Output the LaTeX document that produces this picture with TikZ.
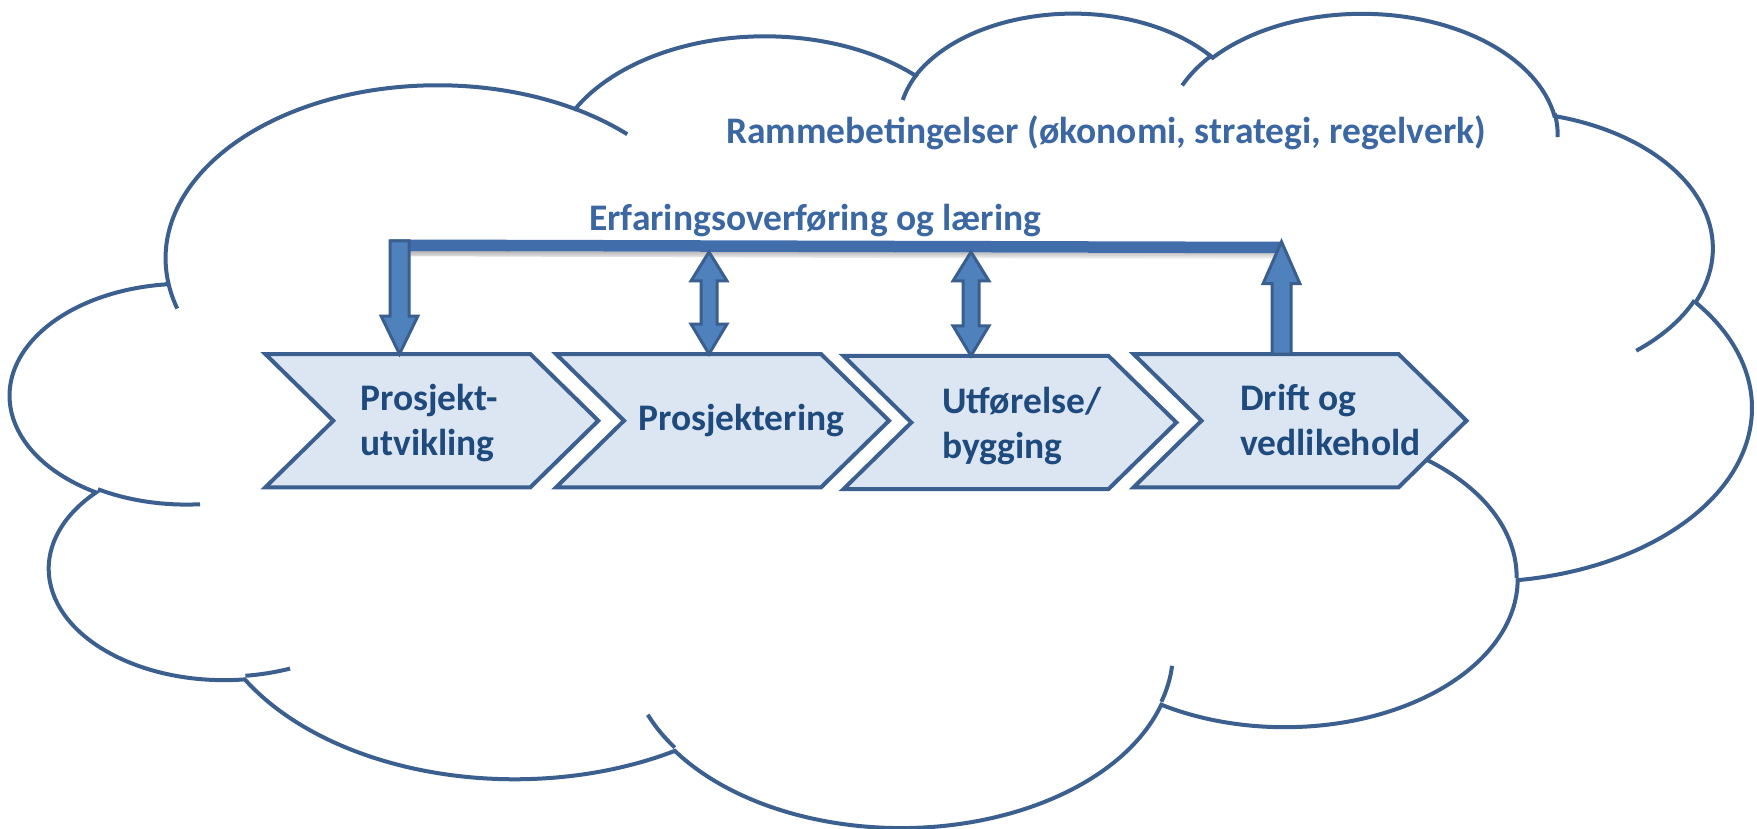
\documentclass[tikz,border=0pt]{standalone}
\usepackage{fontspec}
\setmainfont{Carlito}
\usetikzlibrary{calc}
\definecolor{cloudblue}{HTML}{3B5F8E}
\definecolor{chevline}{HTML}{3B5F8E}
\definecolor{chevfill}{HTML}{DCE6F2}
\definecolor{chevtext}{HTML}{1F4A7E}
\definecolor{toptext}{HTML}{3B67A2}
\definecolor{arrfill}{HTML}{4F81BD}
\definecolor{arrline}{HTML}{3A5F8F}
\definecolor{barfill}{HTML}{416EAB}
% visual (DrawingML) angles -> parametric, negated for y-up canvas
\newcommand\cldcalc[4]{%
  \pgfmathsetmacro\cldta{-((#3)+mod(atan2((#1)*sin(#3),(#2)*cos(#3))-(#3)+540,360)-180)}%
  \pgfmathsetmacro\cldtb{-((#3)+(#4)+mod(atan2((#1)*sin((#3)+(#4)),(#2)*cos((#3)+(#4)))-((#3)+(#4))+540,360)-180)}%
  \pgfmathsetmacro\cldrx{(#1)*0.0402778}%
  \pgfmathsetmacro\cldry{(#2)*0.0188426}%
  \xdef\cldTA{\cldta}\xdef\cldTB{\cldtb}\xdef\cldRX{\cldrx}\xdef\cldRY{\cldry}}
\tikzset{
  cloudline/.style={draw=cloudblue, line width=4pt},
  cldarc/.style={insert path={arc[start angle=\cldTA, end angle=\cldTB, x radius=\cldRX pt, y radius=\cldRY pt]}},
  chevbox/.style={minimum width=333pt, minimum height=133.4pt, inner sep=0pt, outer sep=0pt},
  chevshape/.style={draw=chevline, fill=chevfill, line width=4pt, line join=miter},
  chevlabel/.style={text=chevtext, font=\fontsize{37.5}{44.5}\selectfont\bfseries, align=left, inner sep=0pt, anchor=base west},
  toplabel/.style={text=toptext, font=\fontsize{37.5}{45}\selectfont\bfseries, inner sep=0pt, anchor=base west},
  blockarrow/.style={draw=arrline, fill=arrfill, line width=3pt, line join=miter},
}
\newcommand\chevron[1]{%
  \draw[chevshape] (#1.north west) -- ($(#1.north east)+(-68,0)$) -- (#1.east)
    -- ($(#1.south east)+(-68,0)$) -- (#1.south west) -- ($(#1.west)+(68,0)$) -- cycle;}
\begin{document}
\begin{tikzpicture}[x=1pt, y=-1pt]
\useasboundingbox (0,0) rectangle (1757,829);
% cloud outline
\coordinate (cld0) at (168.08,281.77);
\draw[cloudline, fill=white] (cld0)
  \pgfextra{\cldcalc{6753}{9190}{-190.48748}{123.78053}} [cldarc]
  \pgfextra{\cldcalc{5333}{7267}{-144.10238}{89.94523}} [cldarc]
  \pgfextra{\cldcalc{4365}{5945}{-145.80792}{99.72302}} [cldarc]
  \pgfextra{\cldcalc{4857}{6595}{-130.98607}{117.24173}} [cldarc]
  \pgfextra{\cldcalc{5333}{7273}{-78.70888}{109.02692}} [cldarc]
  \pgfextra{\cldcalc{6775}{9220}{-46.26725}{130.269}} [cldarc]
  \pgfextra{\cldcalc{5785}{7867}{0.62502}{114.03333}} [cldarc]
  \pgfextra{\cldcalc{6752}{9215}{22.4516}{115.17255}} [cldarc]
  \pgfextra{\cldcalc{7720}{10543}{66.24263}{75.71102}} [cldarc]
  \pgfextra{\cldcalc{4360}{5918}{-274.94208}{146.73557}} [cldarc]
  \pgfextra{\cldcalc{4345}{5945}{-246.8285}{152.51885}} [cldarc]
  -- cycle;
% cloud inner strokes
\coordinate (ca) at (200.02,504.24);
\coordinate (cb) at (290.04,668.59);
\coordinate (cc) at (674.70,747.56);
\coordinate (cd) at (1172.09,665.80);
\coordinate (ce) at (1385.64,443.51);
\coordinate (cf) at (1694.53,300.31);
\coordinate (cg) at (1554.61,113.24);
\coordinate (ch) at (1182.20,85.47);
\coordinate (ci) at (902.79,99.94);
\coordinate (cj) at (574.89,108.83);
\coordinate (ck) at (177.23,308.51);
\draw[cloudline]
  (ca) \pgfextra{\cldcalc{4345}{5945}{86.742}{26.4295}} [cldarc]
  (cb) \pgfextra{\cldcalc{4360}{5918}{73.61047}{11.44747}} [cldarc]
  (cc) \pgfextra{\cldcalc{6752}{9215}{137.62415}{14.0811}} [cldarc]
  (cd) \pgfextra{\cldcalc{6752}{9215}{6.45327}{15.99835}} [cldarc]
  (ce) \pgfextra{\cldcalc{5785}{7867}{-70.29235}{70.91737}} [cldarc]
  (cf) \pgfextra{\cldcalc{5333}{7273}{30.31803}{27.7515}} [cldarc]
  (cg) \pgfextra{\cldcalc{4857}{6595}{-13.74433}{14.8589}} [cldarc]
  (ch) \pgfextra{\cldcalc{4857}{6595}{-149.18145}{18.19537}} [cldarc]
  (ci) \pgfextra{\cldcalc{4365}{5945}{-163.49427}{17.68635}} [cldarc]
  (cj) \pgfextra{\cldcalc{6753}{9190}{-66.70695}{12.31935}} [cldarc]
  (ck) \pgfextra{\cldcalc{6753}{9190}{157.65435}{11.85817}} [cldarc];
% chevrons
\node[chevbox] (c1) at (431.8,420.7) {};
\node[chevbox] (c2) at (722.5,420.7) {};
\node[chevbox] (c3) at (1009.9,422.5) {};
\node[chevbox] (c4) at (1300.0,420.7) {};
\chevron{c1}\chevron{c2}\chevron{c3}\chevron{c4}
% feedback bar
\coordinate (barL) at (390,245.2);
\coordinate (barR) at (1282,247.5);
\shade[top color=black!30, bottom color=white]
  ($(barL)+(4,5.75)$) -- ($(barR)+(0,5.75)$) -- ($(barR)+(0,12)$) -- ($(barL)+(4,11)$) -- cycle;
\fill[barfill] ($(barL)+(0,-5.75)$) -- ($(barR)+(0,-5.75)$) -- ($(barR)+(0,5.75)$) -- ($(barL)+(0,5.75)$) -- cycle;
% arrows
\coordinate (b1) at (399.5,241);
\coordinate (e1) at (b1 |- c1.north);
\draw[blockarrow] ($(b1)+(-9.5,0)$) -- ($(b1)+(9.5,0)$) -- ($(e1)+(9.5,-38)$) -- ($(e1)+(18.4,-38)$)
  -- (e1) -- ($(e1)+(-18.4,-38)$) -- ($(e1)+(-9.5,-38)$) -- cycle;
\coordinate (u2) at (709,252);
\coordinate (v2) at (u2 |- c2.north);
\coordinate (u3) at (971,252);
\coordinate (v3) at (u3 |- c3.north);
\foreach \u/\v in {u2/v2, u3/v3}{
  \draw[blockarrow] (\u) -- ($(\u)+(18,29)$) -- ($(\u)+(8,29)$) -- ($(\v)+(8,-30)$) -- ($(\v)+(18,-30)$)
    -- (\v) -- ($(\v)+(-18,-30)$) -- ($(\v)+(-8,-30)$) -- ($(\u)+(-8,29)$) -- ($(\u)+(-18,29)$) -- cycle;
}
\coordinate (u4) at (1281.5,241.7);
\coordinate (v4) at (u4 |- c4.north);
\draw[blockarrow] (u4) -- ($(u4)+(18.4,42)$) -- ($(u4)+(9.5,42)$) -- ($(v4)+(9.5,0)$)
  -- ($(v4)+(-9.5,0)$) -- ($(u4)+(-9.5,42)$) -- ($(u4)+(-18.4,42)$) -- cycle;
% labels
\node[toplabel] (ramme) at (726,144) {Rammebetingelser (økonomi, strategi, regelverk)};
\node[toplabel] (erf) at (589,230.7) {Erfaringsoverføring og læring};
\node[chevlabel] (t1) at (360,455) {Prosjekt-\\utvikling};
\node[chevlabel] (t2) at (638,430) {Prosjektering};
\node[chevlabel] (t3) at (942,458) {Utførelse/\\bygging};
\node[chevlabel] (t4) at (1240,455) {Drift og\\vedlikehold};
\end{tikzpicture}
\end{document}
